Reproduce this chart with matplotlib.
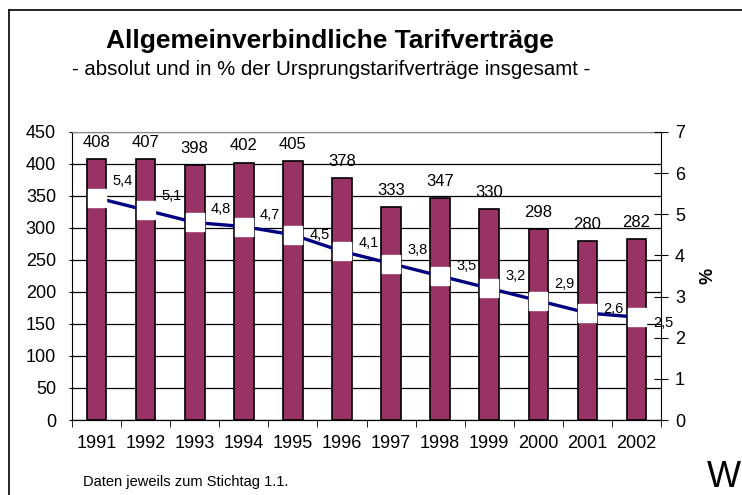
import numpy as np
import matplotlib.pyplot as plt
from matplotlib.lines import Line2D

plt.rcParams['font.family'] = ['Liberation Sans', 'DejaVu Sans']

# Data
years = ['1991', '1992', '1993', '1994', '1995', '1996',
         '1997', '1998', '1999', '2000', '2001', '2002']
counts = [408, 407, 398, 402, 405, 378, 333, 347, 330, 298, 280, 282]
percent = [5.4, 5.1, 4.8, 4.7, 4.5, 4.1, 3.8, 3.5, 3.2, 2.9, 2.6, 2.5]
# vertical nudge of each percentage label (points, + is up)
pct_label_dy = [12, 10, 10, 8, 0, 6, 10, 7, 9, 12, 3, -4]

bar_color = '#993366'
line_color = '#000080'

fig = plt.figure(figsize=(7.42, 4.95), dpi=100)
ax = fig.add_axes([0.097, 0.1515, 0.794, 0.582])

x = np.arange(len(years))
ax.bar(x, counts, width=0.4, color=bar_color, edgecolor='black',
       linewidth=1.2, zorder=3)
for xi, c in zip(x, counts):
    ax.annotate(str(c), (xi, c), xytext=(0, 12), textcoords='offset points',
                ha='center', va='center', fontsize=12, zorder=5)

ax.set_xlim(-0.5, len(years) - 0.5)
ax.set_ylim(0, 450)
ax.set_yticks(np.arange(0, 451, 50))
ax.yaxis.grid(True, color='black', linewidth=0.9, zorder=0)
ax.set_axisbelow(True)
ax.set_xticks(x)
ax.set_xticklabels(years)
ax.set_xticks(np.arange(-0.5, len(years)), minor=True)
ax.tick_params(axis='x', which='major', length=0, labelsize=13, pad=11)
ax.tick_params(axis='x', which='minor', length=5, direction='out')
ax.tick_params(axis='y', labelsize=13, length=5, direction='inout', pad=9)
ax.spines['top'].set_color('#888888')
ax.spines['right'].set_visible(False)

ax2 = ax.twinx()
ax2.set_ylim(0, 7)
ax2.set_yticks(range(0, 8))
ax2.tick_params(axis='y', labelsize=13, length=10, direction='inout', pad=5)
ax2.spines['top'].set_visible(False)
ax2.spines['left'].set_visible(False)
ax2.plot(x, percent, color=line_color, linewidth=2.4, zorder=4)
ax2.plot(x, percent, linestyle='none', marker='s', markersize=13,
         markerfacecolor='white', markeredgecolor='white', zorder=5)
for xi, p, dy in zip(x, percent, pct_label_dy):
    ax2.annotate(f'{p:.1f}'.replace('.', ','), (xi, p), xytext=(19, dy),
                 textcoords='offset points', ha='center', va='center',
                 fontsize=10.5, zorder=6)
ax2.set_ylabel('%', fontsize=13, fontweight='bold', labelpad=10)

fig.text(0.445, 0.918, 'Allgemeinverbindliche Tarifverträge',
         ha='center', va='center', fontsize=19, fontweight='bold')
fig.text(0.446, 0.860,
         '- absolut und in % der Ursprungstarifverträge insgesamt -',
         ha='center', va='center', fontsize=14.7)
fig.text(0.112, 0.026, 'Daten jeweils zum Stichtag 1.1.', ha='left',
         va='center', fontsize=10.5)
fig.text(0.998, 0.036, 'W', ha='right', va='center', fontsize=26,
         color='black')

# frame lines (top and left only visible)
fig.add_artist(Line2D([0.012, 0.012], [0, 0.98], color='black', linewidth=1.2,
                      transform=fig.transFigure))
fig.add_artist(Line2D([0.012, 1.0], [0.98, 0.98], color='black', linewidth=1.2,
                      transform=fig.transFigure))

fig.savefig('out.png', dpi=100)
